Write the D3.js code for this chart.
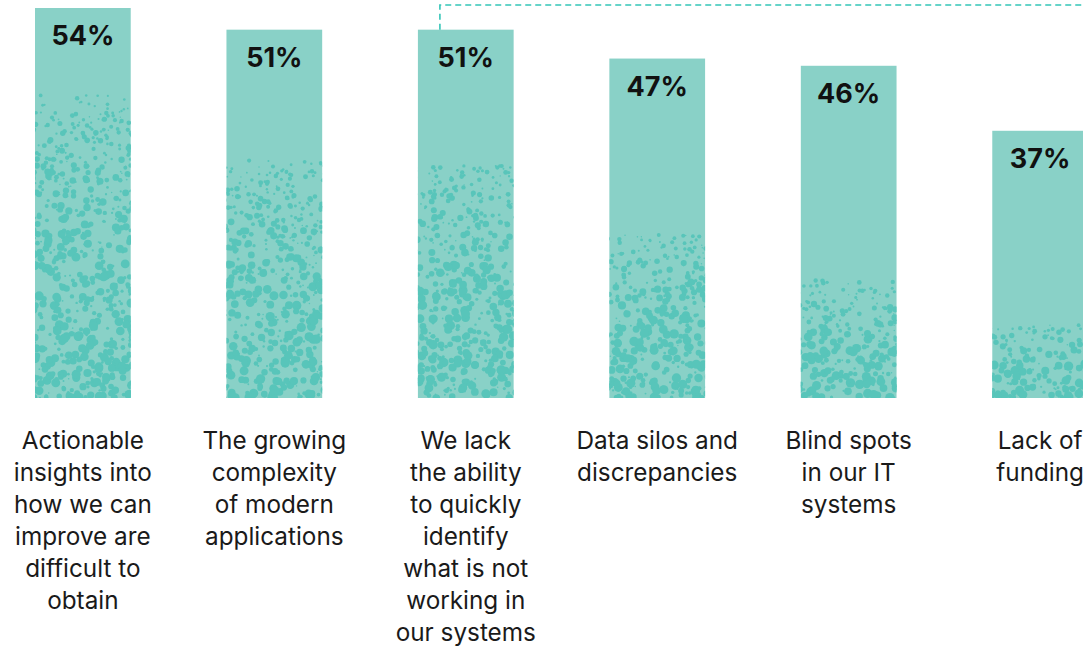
<!DOCTYPE html>
<html><head><meta charset="utf-8">
<script src="https://cdn.jsdelivr.net/npm/d3@7"></script>
<style>
html,body{margin:0;padding:0;background:#fff;overflow:hidden}
svg{display:block}
</style></head>
<body>
<svg id="chart" width="1083" height="646"></svg>
<script>
// ---- data ----
const categories = [
  "Actionable insights into how we can improve are difficult to obtain",
  "The growing complexity of modern applications",
  "We lack the ability to quickly identify what is not working in our systems",
  "Data silos and discrepancies",
  "Blind spots in our IT systems",
  "Lack of funding"
];
const labelLines = [
  ["Actionable","insights into","how we can","improve are","difficult to","obtain"],
  ["The growing","complexity","of modern","applications"],
  ["We lack","the ability","to quickly","identify","what is not","working in","our systems"],
  ["Data silos and","discrepancies"],
  ["Blind spots","in our IT","systems"],
  ["Lack of","funding"]
];
const values = [54, 51, 51, 47, 46, 37];
const valueLabels = ["54%","51%","51%","47%","46%","37%"];

// ---- style ----
const speckleDepth = [303, 238, 233, 163, 118, 73];
const barColor = "#89d1c7", speckColor = "#58c5ba", dashColor = "#35c6b8";
const W = 1083, H = 646, baseY = 398;

const svg = d3.select("#chart");
const x = d3.scaleBand().domain(categories).range([35, 1088]).paddingInner(0.5).paddingOuter(0);
const y = d3.scaleLinear().domain([0, 54]).range([baseY, 8]);

// seeded PRNG for decorative texture
function mulberry(a){return function(){a|=0;a=a+0x6D2B79F5|0;let t=Math.imul(a^a>>>15,1|a);t=t+Math.imul(t^t>>>7,61|t)^t;return((t^t>>>14)>>>0)/4294967296;}}
const rnd = mulberry(12345);

const defs = svg.append("defs");
categories.forEach((c,i)=>{
  defs.append("clipPath").attr("id","clip"+i).append("rect")
    .attr("x", x(c)).attr("y", y(values[i])).attr("width", x.bandwidth()).attr("height", baseY - y(values[i]));
});

const bars = svg.selectAll("g.bar").data(categories).join("g").attr("class","bar");
bars.append("rect")
  .attr("x", d=>x(d)).attr("y", (d,i)=>y(values[i]))
  .attr("width", x.bandwidth()).attr("height", (d,i)=>baseY - y(values[i]))
  .attr("fill", barColor);

bars.each(function(d,i){
  const g = d3.select(this).append("g").attr("clip-path","url(#clip"+i+")");
  const depth = speckleDepth[i];
  const bw = x.bandwidth(), x0 = x(d);
  const n = Math.round(depth * 2.2);
  for(let k=0;k<n;k++){
    const u = Math.pow(rnd(), 1.15);
    const cy = baseY - depth * u;
    const dens = 1 - u;
    const r = 0.7 + rnd()*(1.6 + 2.4*Math.min(1, dens*1.8));
    g.append("circle").attr("cx", x0 - 3 + rnd()*(bw+6)).attr("cy", cy).attr("r", r).attr("fill", speckColor);
  }
});

// value labels
svg.selectAll("text.val").data(categories).join("text").attr("class","val")
  .attr("x", d=>x(d)+x.bandwidth()/2).attr("y",(d,i)=>y(values[i])+37)
  .attr("text-anchor","middle").attr("font-family","Inter, 'Noto Sans', sans-serif")
  .attr("font-weight",700).attr("font-size",27).attr("fill","#111")
  .text((d,i)=>valueLabels[i]);

// category labels
const lab = svg.selectAll("text.cat").data(categories).join("text").attr("class","cat")
  .attr("text-anchor","middle").attr("font-family","Inter, 'Noto Sans', sans-serif")
  .attr("font-size",24.3).attr("fill","#1a1a1a");
lab.each(function(d,i){
  const t = d3.select(this), cx = x(d)+x.bandwidth()/2;
  labelLines[i].forEach((ln,j)=>{
    t.append("tspan").attr("x",cx).attr("y",449 + j*32).text(ln);
  });
});

// dashed callout
const bx = x(categories[2]) + 22;
svg.append("path")
  .attr("d", `M${bx},${y(values[2])} V5 H${W}`)
  .attr("fill","none").attr("stroke",dashColor).attr("stroke-width",1.6)
  .attr("stroke-dasharray","6,4");
</script>
</body></html>
